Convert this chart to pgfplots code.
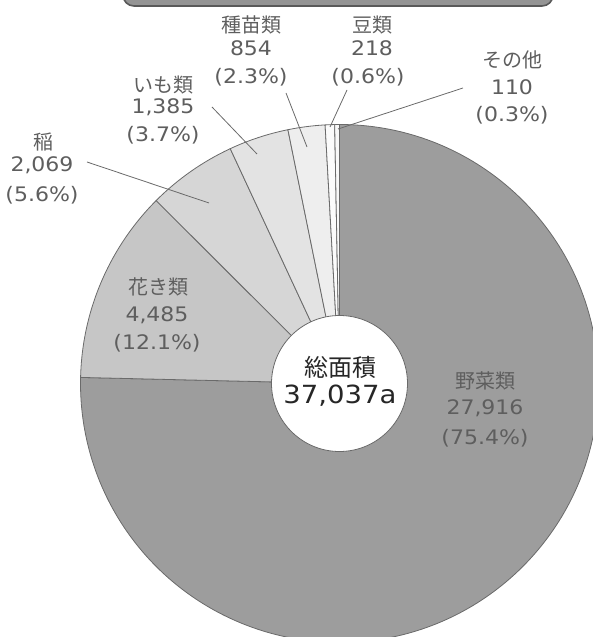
\documentclass[border=0pt]{standalone}
\usepackage{pgfplots}
\pgfplotsset{compat=1.18}
\usepackage{pgfplotstable}
\usepackage{fontspec}
\setmainfont{Noto Sans CJK JP}
\newfontfamily\numfont[FakeStretch=1.1]{DejaVu Sans}

\definecolor{cveg}{HTML}{9D9D9D}
\definecolor{cflower}{HTML}{C6C6C6}
\definecolor{crice}{HTML}{D6D6D6}
\definecolor{cpotato}{HTML}{E3E3E3}
\definecolor{cseed}{HTML}{EEEEEE}
\definecolor{cbean}{HTML}{FBFBFB}
\definecolor{cother}{HTML}{F8F8F8}
\definecolor{edge}{HTML}{6A6A6A}
\definecolor{txt}{HTML}{5E5E5E}

% area (a) by crop
\pgfplotstableread{
name value
veg 27916
flower 4485
rice 2069
potato 1385
seed 854
bean 218
other 110
}\areatable

% cumulative angles (clockwise from 12 o'clock)
\xdef\total{0}
\foreach \i in {0,...,6}{%
  \pgfplotstablegetelem{\i}{value}\of\areatable
  \xdef\total{\fpeval{\total+\pgfplotsretval}}%
}
\xdef\cum{0}
\expandafter\xdef\csname ang0\endcsname{90}
\foreach \i in {0,...,6}{%
  \pgfplotstablegetelem{\i}{value}\of\areatable
  \xdef\cum{\fpeval{\cum+\pgfplotsretval}}%
  \pgfmathtruncatemacro\j{\i+1}%
  \expandafter\xdef\csname ang\j\endcsname{\fpeval{90-360*\cum/\total}}%
}

\def\cx{339.5}
\def\cy{253.5}
\def\R{259}
\newcommand\pieslice[3]{%
  \filldraw[fill=#3, draw=edge, line width=0.8pt]
    (axis cs:\cx,\cy) -- ++(\csname ang#1\endcsname:\R pt)
    arc[start angle=\csname ang#1\endcsname, end angle=\csname ang#2\endcsname, radius=\R pt] -- cycle;}

\newcommand\lab[4]{% x, y name, name
  \node[txt, font=\fontsize{20}{20}\selectfont, inner sep=0pt] at (axis cs:#1,#2) {#4};}
\newcommand\num[3]{%
  \node[txt, font=\fontsize{20}{20}\selectfont\numfont, inner sep=0pt] at (axis cs:#1,#2) {#3};}

\begin{document}
\begin{tikzpicture}
\begin{axis}[name=ax, scale only axis, width=592pt, height=637pt,
  xmin=0, xmax=592, ymin=0, ymax=637, hide axis, clip=false]
% header box (cut off at top)
\filldraw[fill=black!42, draw=black!65, line width=1.6pt, rounded corners=11pt]
  (axis cs:123,631) rectangle (axis cs:553,690);
% pie slices
\pieslice{0}{1}{cveg}
\pieslice{1}{2}{cflower}
\pieslice{2}{3}{crice}
\pieslice{3}{4}{cpotato}
\pieslice{4}{5}{cseed}
\pieslice{5}{6}{cbean}
\pieslice{6}{7}{cother}
% centre disc
\filldraw[fill=white, draw=edge, line width=0.8pt] (axis cs:\cx,\cy) circle[radius=68pt];
\node[black!85, font=\fontsize{24}{24}\selectfont, inner sep=0pt] at (axis cs:340,270) {総面積};
\node[black!85, font=\fontsize{25}{25}\selectfont\numfont, inner sep=0pt] at (axis cs:340,241) {37,037a};
% leader lines
\draw[edge, line width=0.8pt] (axis cs:87,475) -- (axis cs:209,434);
\draw[edge, line width=0.8pt] (axis cs:212,530) -- (axis cs:257,483);
\draw[edge, line width=0.8pt] (axis cs:286,544) -- (axis cs:307,490);
\draw[edge, line width=0.8pt] (axis cs:347,547) -- (axis cs:330,510);
\draw[edge, line width=0.8pt] (axis cs:463,549) -- (axis cs:338,508);
% labels
\lab{251}{612}{seed}{種苗類}
\num{251}{589}{854}
\num{251}{560}{(2.3\%)}
\lab{372}{612}{bean}{豆類}
\num{372}{589}{218}
\num{368}{560}{(0.6\%)}
\lab{512}{577}{other}{その他}
\num{512}{550}{110}
\num{512}{522}{(0.3\%)}
\lab{163}{552}{potato}{いも類}
\num{163}{530}{1,385}
\num{163}{502}{(3.7\%)}
\lab{43}{495}{rice}{稲}
\num{42}{472}{2,069}
\num{42}{442}{(5.6\%)}
\lab{158}{350}{flower}{花き類}
\num{157}{322}{4,485}
\num{157}{294}{(12.1\%)}
\lab{485}{256}{veg}{野菜類}
\num{485}{229}{27,916}
\num{485}{199}{(75.4\%)}
\end{axis}
\pgfresetboundingbox
\useasboundingbox (ax.south west) rectangle (ax.north east);
\end{tikzpicture}
\end{document}
